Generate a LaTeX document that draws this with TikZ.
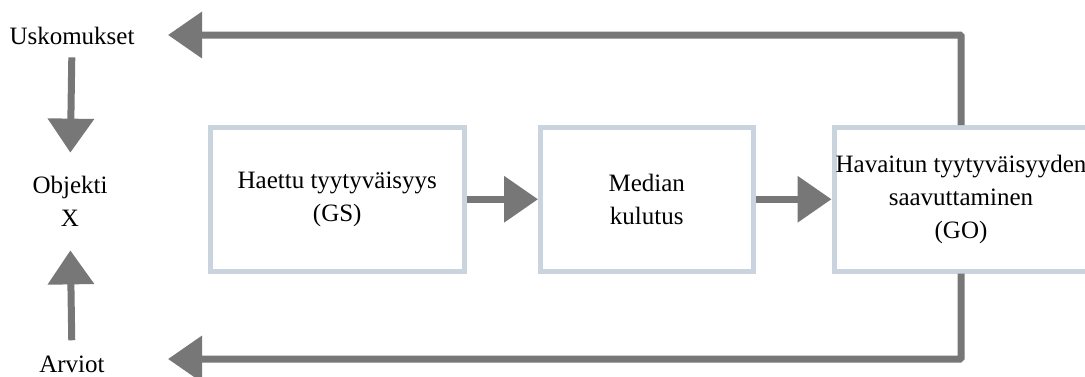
\documentclass[tikz,border=0pt]{standalone}
\usepackage{fontspec}
\setmainfont{Liberation Serif}
\usetikzlibrary{arrows.meta}
\definecolor{arrowgray}{HTML}{777777}
\definecolor{boxblue}{HTML}{C9D4DE}
\begin{document}
\begin{tikzpicture}[x=1pt,y=-1pt,
  txt/.style={font=\fontsize{25}{33}\selectfont, text=black},
  box/.style={txt, draw=boxblue, line width=5pt, fill=white, minimum height=143.5pt,
    inner sep=0pt, align=center},
  lbl/.style={txt, inner sep=0pt, align=center},
  arr/.style={draw=arrowgray, line width=7pt,
    -{Triangle[length=34pt,width=45pt]}}
]
\useasboundingbox (0,0) rectangle (1085,376);
\node[box, minimum width=253.5pt] (b1) at (337.25,199.25) {Haettu tyytyväisyys\\(GS)};
\node[box, minimum width=212.5pt] (b2) at (646.75,199.25) {Median\\kulutus};
\node[box, minimum width=254pt] (b3) at (961,199.25) {Havaitun tyytyväisyyden\\saavuttaminen\\(GO)};
\node[lbl, anchor=base] (us) at (72,44) {Uskomukset};
\node[lbl] (obj) at (70,201) {Objekti\\X};
\node[lbl, anchor=base] (arv) at (72,372) {Arviot};
\coordinate (topend) at (168,35);
\coordinate (botend) at (168,359);
\draw[arr] (b1.east) -- (b2.west);
\draw[arr] (b2.east) -- (b3.west);
\draw[arr, rounded corners=1pt] (b3.north) |- (topend);
\draw[arr, rounded corners=1pt] (b3.south) |- (botend);
\draw[arr, shorten <=13pt, shorten >=23pt] (us.south) -- (obj.north);
\draw[arr, shorten <=15pt, shorten >=24pt] (arv.north) -- (obj.south);
\end{tikzpicture}
\end{document}
